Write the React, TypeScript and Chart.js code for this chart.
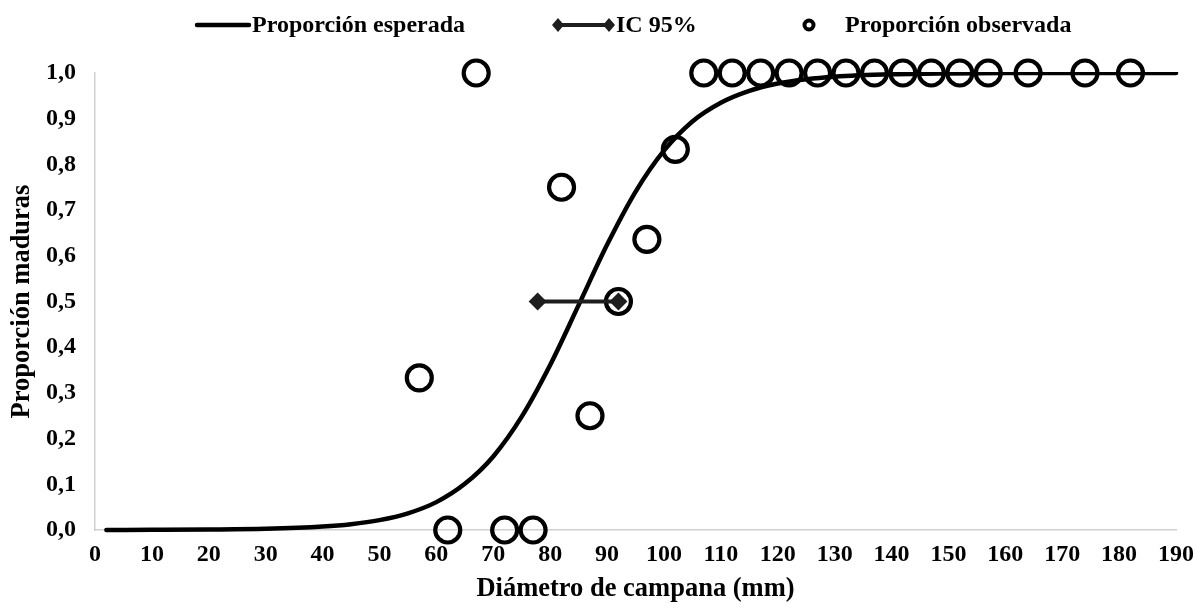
import React, { useEffect, useRef } from "react";
import { Chart, registerables } from "chart.js";

Chart.register(...registerables);

// Fitted maturity ogive (expected proportion) by bell diameter
const curveX = [2, 10, 20, 30, 40, 45, 50, 55, 60, 65, 70, 75, 80, 85, 90, 95, 100, 105, 110, 115, 120, 125, 130, 140, 150, 160, 170, 180, 190];
const curveY = [0.0001, 0.0003, 0.0009, 0.0025, 0.0075, 0.0127, 0.0216, 0.0365, 0.061, 0.101, 0.161, 0.248, 0.361, 0.492, 0.624, 0.74, 0.83, 0.894, 0.935, 0.961, 0.977, 0.9865, 0.992, 0.997, 0.999, 1.0, 1.0, 1.0, 1.0];

// Observed proportion of mature individuals per size class
const obsX = [57, 62, 67, 72, 77, 82, 87, 92, 97, 102, 107, 112, 117, 122, 127, 132, 137, 142, 147, 152, 157, 164, 174, 182];
const obsY = [0.333, 0, 1, 0, 0, 0.75, 0.25, 0.5, 0.636, 0.833, 1, 1, 1, 1, 1, 1, 1, 1, 1, 1, 1, 1, 1, 1];

// 95% confidence interval of the size at 50% maturity
const ciX = [77.8, 92];
const ciY = [0.5, 0.5];

const legendLabels = ["Proporción esperada", "IC 95%", "Proporción observada"];
const xTitle = "Diámetro de campana (mm)";
const yTitle = "Proporción maduras";
const xMin = 0;
const xMax = 190;
const xStep = 10;
const yMin = 0;
const yMax = 1;
const yStep = 0.1;

const FAMILY = '"Liberation Serif", "Times New Roman", serif';
const TICK_SIZE = 24;
const TITLE_SIZE = 26.5;
const INK = "#000000";
const CI_INK = "#1e1e1e";
const AXIS_GREY = "#d0d0d0";

const toPoints = (xs: number[], ys: number[]) => xs.map((x, i) => ({ x, y: ys[i] }));

// Draws the single-row legend above the plot
const legendRow = {
  id: "legendRow",
  afterDraw(chart: any) {
    const ctx = chart.ctx as CanvasRenderingContext2D;
    const y = 25;
    ctx.save();
    ctx.font = `bold ${TICK_SIZE}px ${FAMILY}`;
    ctx.fillStyle = INK;
    ctx.textBaseline = "middle";
    ctx.textAlign = "left";

    // expected proportion: plain line
    ctx.strokeStyle = INK;
    ctx.lineWidth = 4.5;
    ctx.lineCap = "round";
    ctx.beginPath();
    ctx.moveTo(197, y);
    ctx.lineTo(249, y);
    ctx.stroke();
    ctx.fillText(legendLabels[0], 252, y + 1);

    // CI: line with diamond ends
    ctx.strokeStyle = CI_INK;
    ctx.fillStyle = CI_INK;
    ctx.lineWidth = 4;
    ctx.beginPath();
    ctx.moveTo(558, y);
    ctx.lineTo(609, y);
    ctx.stroke();
    for (const cx of [558, 609]) {
      ctx.beginPath();
      ctx.moveTo(cx, y - 7);
      ctx.lineTo(cx + 6, y);
      ctx.lineTo(cx, y + 7);
      ctx.lineTo(cx - 6, y);
      ctx.closePath();
      ctx.fill();
    }
    ctx.fillStyle = INK;
    ctx.fillText(legendLabels[1], 616, y + 1);

    // observed proportion: ring marker
    ctx.strokeStyle = INK;
    ctx.lineWidth = 4;
    ctx.beginPath();
    ctx.arc(809, y, 4.5, 0, Math.PI * 2);
    ctx.stroke();
    ctx.fillText(legendLabels[2], 845, y + 1);
    ctx.restore();
  },
};

export default function App() {
  const canvasRef = useRef<HTMLCanvasElement | null>(null);

  useEffect(() => {
    const canvas = canvasRef.current;
    if (!canvas) return;
    const tickFont = { family: FAMILY, size: TICK_SIZE, weight: "bold" as const };
    const titleFont = { family: FAMILY, size: TITLE_SIZE, weight: "bold" as const };

    const chart = new Chart(canvas, {
      type: "scatter",
      data: {
        datasets: [
          {
            label: legendLabels[1],
            data: toPoints(ciX, ciY),
            showLine: true,
            borderColor: CI_INK,
            borderWidth: 4,
            backgroundColor: CI_INK,
            pointStyle: "rectRot",
            pointRadius: 9,
            pointBorderWidth: 0,
            pointBackgroundColor: CI_INK,
            clip: false,
          },
          {
            label: legendLabels[0],
            data: toPoints(curveX, curveY),
            showLine: true,
            borderColor: INK,
            borderWidth: 4.5,
            pointRadius: 0,
            cubicInterpolationMode: "monotone",
            borderCapStyle: "round",
            // plateau at 1,0 is trimmed by the top edge of the plot
            clip: { left: 10, top: 1, right: 10, bottom: 10 },
          },
          {
            label: legendLabels[2],
            data: toPoints(obsX, obsY),
            showLine: false,
            pointStyle: "circle",
            pointRadius: 12.5,
            pointBorderWidth: 4.2,
            pointBorderColor: INK,
            pointBackgroundColor: "rgba(0,0,0,0)",
            clip: false,
          },
        ],
      },
      options: {
        animation: false,
        responsive: true,
        maintainAspectRatio: false,
        layout: { padding: { top: 73, right: 21, left: 0, bottom: 0 } },
        plugins: {
          legend: { display: false },
          tooltip: { enabled: false },
        },
        scales: {
          x: {
            type: "linear",
            min: xMin,
            max: xMax,
            grid: { display: false, drawTicks: false },
            border: { display: true, color: AXIS_GREY, width: 1.5 },
            ticks: {
              stepSize: xStep,
              color: INK,
              font: tickFont,
              padding: 10,
              maxRotation: 0,
              autoSkip: false,
            },
            title: {
              display: true,
              text: xTitle,
              color: INK,
              font: titleFont,
              padding: { top: 0, bottom: 6 },
            },
            afterFit(scale: any) {
              scale.height = 81;
              // the plot edge is set by the layout padding alone
              scale.paddingLeft = 0;
              scale.paddingRight = 0;
            },
          },
          y: {
            type: "linear",
            min: yMin,
            max: yMax,
            grid: { display: false, drawTicks: false },
            border: { display: true, color: AXIS_GREY, width: 1.5 },
            ticks: {
              stepSize: yStep,
              color: INK,
              font: tickFont,
              padding: 19,
              callback: (v: any) => Number(v).toFixed(1).replace(".", ","),
            },
            title: {
              display: true,
              text: yTitle,
              color: INK,
              font: titleFont,
              padding: { top: 6, bottom: 0 },
            },
            afterFit(scale: any) {
              scale.width = 95;
            },
          },
        },
      },
      plugins: [legendRow],
    });

    return () => chart.destroy();
  }, []);

  return (
    <div style={{ position: "absolute", left: 0, top: 0, width: 1197, height: 611, background: "#ffffff" }}>
      <canvas ref={canvasRef} />
    </div>
  );
}
